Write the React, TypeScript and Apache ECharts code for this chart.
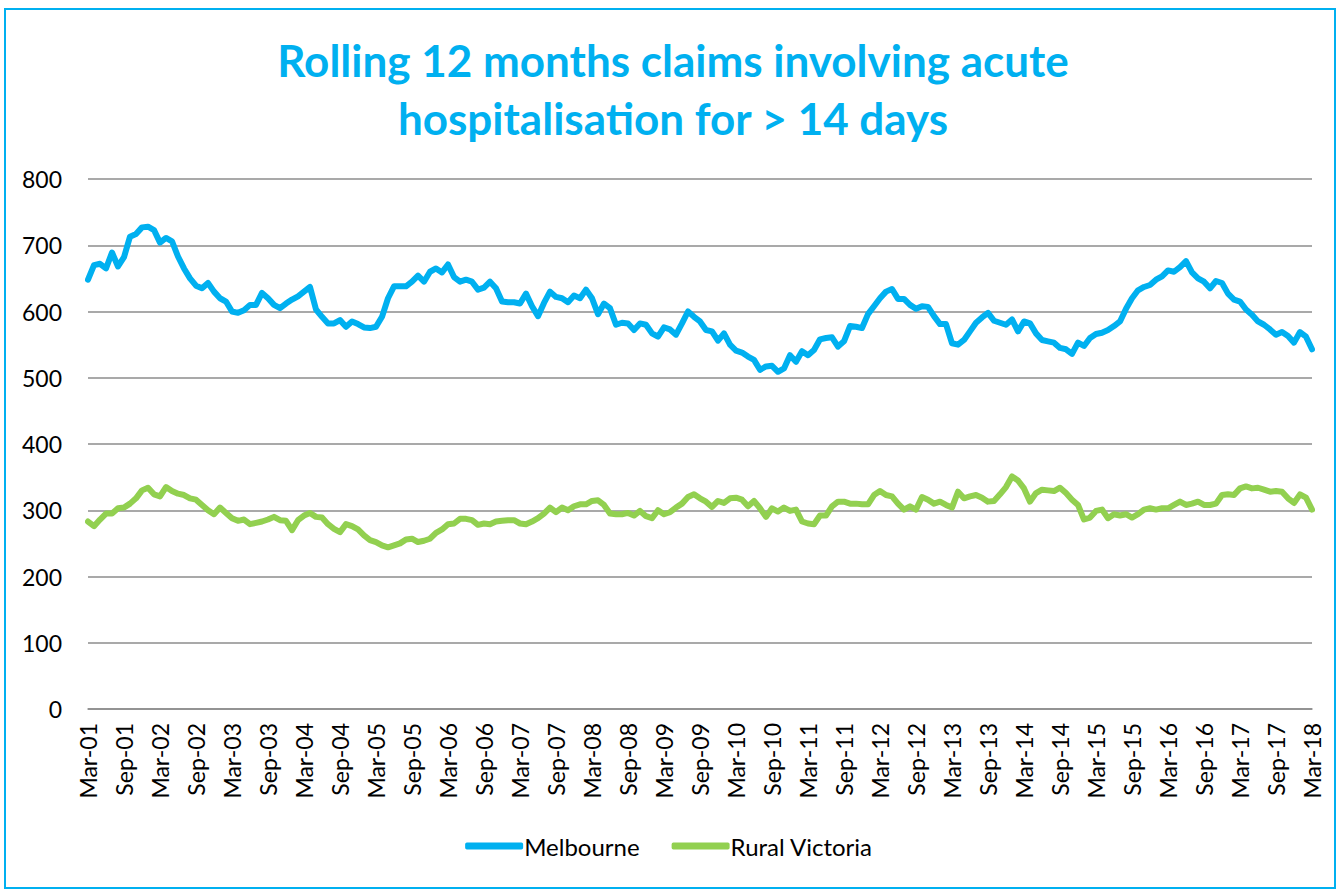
import React, { useEffect, useRef } from "react";
import * as echarts from "echarts";

const MONTHS = ["Jan", "Feb", "Mar", "Apr", "May", "Jun", "Jul", "Aug", "Sep", "Oct", "Nov", "Dec"];
const START_YEAR = 2001;
const START_MONTH = 2; // March
const N_POINTS = 205;
const categories: string[] = [];
for (let i = 0; i < N_POINTS; i++) {
  const m = (START_MONTH + i) % 12;
  const y = START_YEAR + Math.floor((START_MONTH + i) / 12);
  categories.push(MONTHS[m] + "-" + String(y % 100).padStart(2, "0"));
}

const melbourne = [
  648, 670, 672, 665, 689, 668, 682, 713, 717, 727,
  728, 723, 704, 711, 706, 683, 665, 650, 639, 635,
  643, 630, 620, 615, 600, 598, 602, 610, 610, 628,
  620, 610, 605, 612, 618, 623, 630, 637, 603, 592,
  582, 582, 587, 577, 585, 581, 576, 575, 577, 592,
  620, 638, 638, 638, 645, 654, 645, 660, 665, 659,
  671, 652, 645, 648, 645, 633, 636, 645, 635, 615,
  614, 614, 612, 627, 608, 593, 613, 630, 622, 620,
  614, 624, 620, 633, 620, 596, 612, 605, 580, 583,
  582, 572, 582, 580, 567, 562, 576, 573, 565, 582,
  600, 592, 585, 572, 570, 556, 567, 550, 541, 538,
  532, 527, 512, 517, 518, 509, 514, 534, 524, 540,
  534, 542, 558, 560, 561, 547, 555, 578, 577, 575,
  596, 608, 620, 630, 634, 619, 619, 610, 604, 608,
  607, 593, 581, 581, 552, 550, 557, 570, 583, 591,
  598, 586, 583, 580, 588, 570, 585, 582, 567, 557,
  555, 553, 545, 543, 536, 553, 548, 560, 566, 568,
  572, 578, 585, 604, 620, 632, 637, 640, 648, 653,
  662, 660, 667, 676, 659, 650, 645, 635, 646, 643,
  627, 618, 615, 603, 595, 585, 580, 573, 565, 569,
  563, 553, 569, 562, 543,
];

const ruralVictoria = [
  283, 276, 286, 295, 295, 303, 304, 310, 318, 330,
  334, 324, 321, 335, 329, 325, 323, 318, 316, 308,
  300, 294, 304, 296, 288, 284, 286, 279, 281, 283,
  286, 290, 285, 284, 270, 285, 292, 296, 290, 289,
  279, 272, 267, 279, 276, 271, 262, 255, 252, 247,
  244, 247, 250, 256, 257, 252, 254, 257, 266, 271,
  279, 280, 287, 287, 285, 278, 280, 279, 283, 284,
  285, 285, 280, 279, 283, 288, 295, 304, 297, 304,
  300, 306, 309, 309, 314, 315, 308, 295, 294, 294,
  296, 292, 299, 291, 288, 300, 294, 297, 304, 310,
  320, 324, 318, 313, 305, 314, 311, 318, 319, 316,
  306, 314, 303, 290, 303, 298, 304, 299, 301, 283,
  280, 279, 292, 292, 306, 313, 313, 310, 310, 309,
  309, 323, 329, 323, 321, 310, 301, 306, 301, 320,
  316, 310, 313, 308, 304, 328, 318, 321, 323, 319,
  313, 314, 324, 335, 351, 345, 333, 313, 326, 331,
  330, 329, 334, 326, 316, 308, 286, 289, 299, 301,
  288, 294, 292, 294, 289, 294, 301, 303, 301, 303,
  303, 308, 313, 308, 310, 313, 308, 308, 310, 323,
  324, 323, 333, 336, 333, 334, 331, 328, 329, 328,
  318, 311, 324, 319, 301,
];

const TITLE_LINES = ["Rolling 12 months claims involving acute", "hospitalisation for > 14 days"];
const SERIES_NAMES = ["Melbourne", "Rural Victoria"];
const COLORS = ["#00B0F0", "#92D050"];
const FONT = "Lato, 'Open Sans', sans-serif";

export default function App() {
  const ref = useRef<HTMLDivElement>(null);
  useEffect(() => {
    if (!ref.current) return;
    const chart = echarts.init(ref.current, undefined, { renderer: "svg" });
    chart.setOption({
      animation: false,
      backgroundColor: "#ffffff",
      legend: {
        top: 829,
        left: "center",
        itemWidth: 58,
        itemHeight: 7,
        itemGap: 32,
        icon: "roundRect",
        textStyle: { color: "#000", fontSize: 24, fontFamily: FONT, padding: [0, 0, 0, -4] },
        data: SERIES_NAMES,
      },
      grid: { left: 88, right: 26, top: 179, bottom: 185 },
      xAxis: {
        type: "category",
        data: categories,
        boundaryGap: false,
        axisLine: { lineStyle: { color: "#8c8c8c", width: 1.5 } },
        axisTick: { show: false },
        axisLabel: {
          interval: 5,
          rotate: 90,
          color: "#000",
          fontSize: 23,
          fontFamily: FONT,
          margin: 14,
        },
      },
      yAxis: {
        type: "value",
        min: 0,
        max: 800,
        interval: 100,
        axisLine: { show: false },
        axisTick: { show: false },
        axisLabel: { color: "#000", fontSize: 23, fontFamily: FONT, margin: 26 },
        splitLine: { lineStyle: { color: "#8c8c8c", width: 1.5 } },
      },
      series: [
        {
          name: SERIES_NAMES[0],
          type: "line",
          data: melbourne,
          showSymbol: false,
          symbol: "none",
          lineStyle: { color: COLORS[0], width: 6, join: "round", cap: "round" },
          itemStyle: { color: COLORS[0] },
        },
        {
          name: SERIES_NAMES[1],
          type: "line",
          data: ruralVictoria,
          showSymbol: false,
          symbol: "none",
          lineStyle: { color: COLORS[1], width: 6, join: "round", cap: "round" },
          itemStyle: { color: COLORS[1] },
        },
      ],
      graphic: [
        {
          type: "rect",
          shape: { x: 5, y: 9, width: 1330, height: 879 },
          style: { fill: "none", stroke: "#00B0F0", lineWidth: 2 },
          silent: true,
        },
        {
          type: "text",
          x: 673,
          y: 60,
          style: {
            text: TITLE_LINES[0],
            fill: "#00B0F0",
            font: "bold 44px " + FONT,
            textAlign: "center",
            textVerticalAlign: "middle",
          },
        },
        {
          type: "text",
          x: 673,
          y: 118,
          style: {
            text: TITLE_LINES[1],
            fill: "#00B0F0",
            font: "bold 44px " + FONT,
            textAlign: "center",
            textVerticalAlign: "middle",
          },
        },
      ],
    });
    return () => chart.dispose();
  }, []);
  return (
    <div
      ref={ref}
      style={{ position: "absolute", left: 0, top: 0, width: 1338, height: 894 }}
    />
  );
}
